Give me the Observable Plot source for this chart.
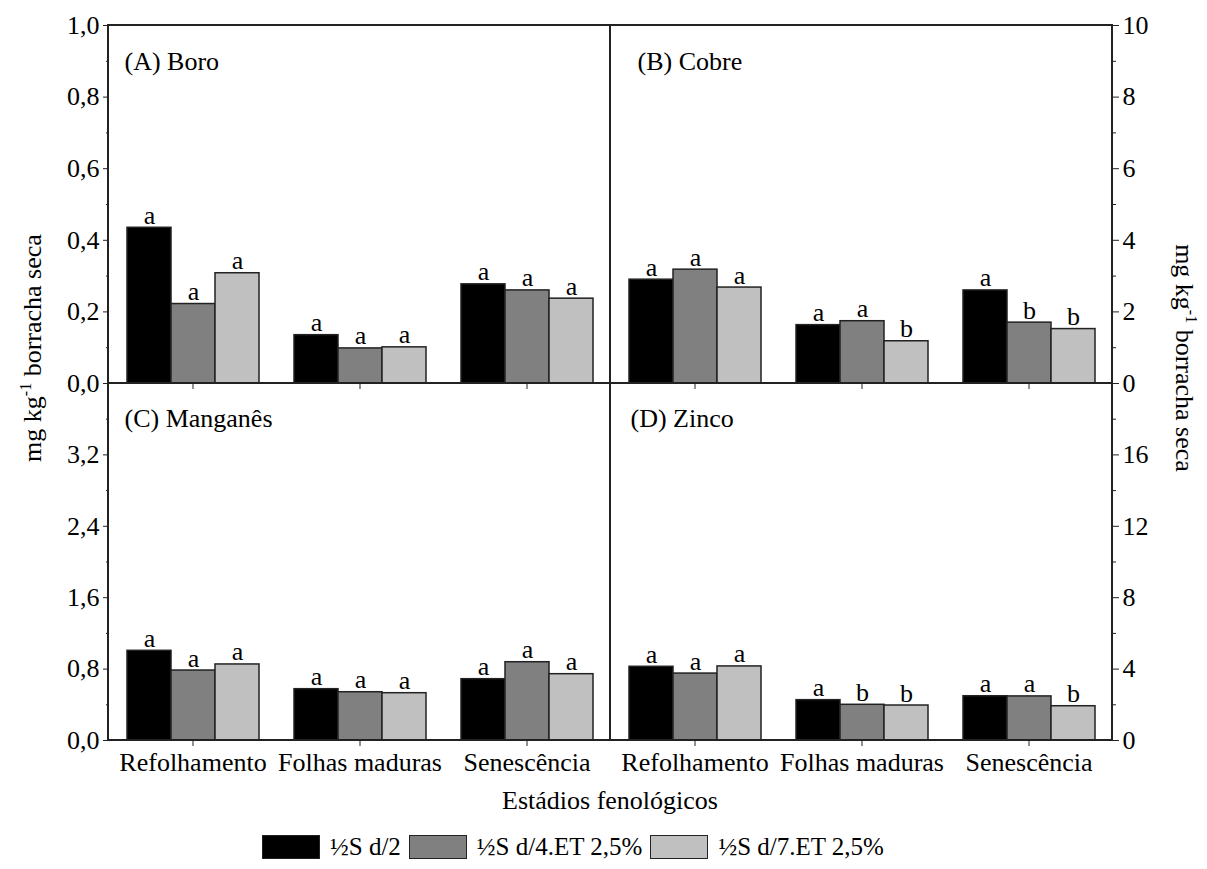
<!DOCTYPE html>
<html>
<head>
<meta charset="utf-8">
<script src="https://cdn.jsdelivr.net/npm/d3@7"></script>
<script src="https://cdn.jsdelivr.net/npm/@observablehq/plot@0.6"></script>
<style>
  html, body { margin: 0; padding: 0; background: #fff; }
  #wrap { position: relative; width: 1207px; height: 869px; font-family: "Liberation Serif", "DejaVu Serif", serif; color: #000; overflow: hidden; }
  #wrap svg { position: absolute; overflow: visible; }
  #wrap svg text { font-family: "Liberation Serif", "DejaVu Serif", serif; }
  .line { position: absolute; background: #222; }
  .ytitle { position: absolute; white-space: nowrap; font-size: 26px; }
  .ytitle sup { font-size: 16px; vertical-align: 10px; line-height: 0; }
  #xtitle { position: absolute; left: 610px; top: 786px; transform: translateX(-50%); font-size: 26px; white-space: nowrap; }
  #legend { position: absolute; left: 262px; top: 832px; display: flex; align-items: center; font-size: 25px; line-height: 30px; white-space: nowrap; }
  #legend .sw { width: 58px; height: 24px; box-sizing: border-box; border: 1.5px solid #222; margin-right: 10px; }
  #legend .it { display: flex; align-items: center; margin-right: 8px; }
</style>
</head>
<body>
<div id="wrap"></div>
<script>
// ---- data ----
const stages = ["Refolhamento", "Folhas maduras", "Senescência"];
const treatments = ["½S d/2", "½S d/4.ET 2,5%", "½S d/7.ET 2,5%"];
const colors = ["#000000", "#808080", "#c0c0c0"];

const boro     = [[0.435, 0.222, 0.308], [0.135, 0.098, 0.101], [0.277, 0.260, 0.237]];
const boroLet  = [["a","a","a"], ["a","a","a"], ["a","a","a"]];
const cobre    = [[2.90, 3.18, 2.68], [1.63, 1.74, 1.18], [2.60, 1.70, 1.52]];
const cobreLet = [["a","a","a"], ["a","a","b"], ["a","b","b"]];
const mang     = [[1.005, 0.784, 0.852], [0.575, 0.541, 0.530], [0.687, 0.877, 0.743]];
const mangLet  = [["a","a","a"], ["a","a","a"], ["a","a","a"]];
const zinco    = [[4.13, 3.75, 4.15], [2.26, 2.00, 1.96], [2.48, 2.47, 1.92]];
const zincoLet = [["a","a","a"], ["a","b","b"], ["a","a","b"]];

const boroTicks = [0, 0.2, 0.4, 0.6, 0.8, 1.0];
const boroMinor = [0.1, 0.3, 0.5, 0.7, 0.9];
const cobreTicks = [0, 2, 4, 6, 8, 10];
const cobreMinor = [1, 3, 5, 7, 9];
const mangTicks = [0, 0.8, 1.6, 2.4, 3.2];
const mangMinor = [0.4, 1.2, 2.0, 2.8, 3.6];
const zincoTicks = [0, 4, 8, 12, 16];
const zincoMinor = [2, 6, 10, 14, 18];

const FONT = "'Liberation Serif', 'DejaVu Serif', serif";
const comma1 = d => d.toFixed(1).replace(".", ",");
const intFmt = d => String(d);

function table(values, letters) {
  return stages.flatMap((s, i) => treatments.map((t, j) => ({stage: s, trt: t, value: values[i][j], letter: letters[i][j]})));
}

function panel(o) {
  const data = table(o.values, o.letters);
  const svg = Plot.plot({
    width: o.width, height: o.height,
    marginLeft: o.ml, marginRight: o.mr, marginTop: o.mt, marginBottom: o.mb,
    style: {background: "transparent", fontFamily: FONT, fontSize: "26px", overflow: "visible", color: "#000"},
    fx: {domain: stages, padding: 0},
    x: {domain: treatments, paddingInner: 0, paddingOuter: 0.36, axis: null},
    y: {domain: [0, o.yMax]},
    color: {domain: treatments, range: colors},
    marks: [
      Plot.barY(data, {fx: "stage", x: "trt", y: "value", fill: "trt", stroke: "#222", strokeWidth: 1.5}),
      Plot.text(data, {fx: "stage", x: "trt", y: "value", text: "letter", dy: -4, lineAnchor: "bottom", fontSize: 26, fill: "#000"}),
      Plot.axisY({anchor: o.anchor, ticks: o.ticks, tickFormat: o.fmt, tickSize: 6, tickPadding: 4, label: null, fontSize: 26, stroke: "#222"}),
      Plot.axisY({anchor: o.anchor, ticks: o.minor, tickFormat: () => "", tickSize: 3, label: null, stroke: "#222"}),
      Plot.axisFx({anchor: "bottom", tickSize: 6, tickPadding: 6, label: null, fontSize: 26,
                   tickFormat: o.bottom ? (d => d) : (() => ""), stroke: "#222"}),
      Plot.text([{stage: stages[0], t: o.label}], {fx: "stage", text: "t", frameAnchor: "top-left",
                 dx: o.ldx, dy: o.ldy, lineAnchor: "top", textAnchor: "start", fontSize: 26, fill: "#000"})
    ]
  });
  svg.style.left = o.left + "px";
  svg.style.top = o.top + "px";
  return svg;
}

const wrap = document.getElementById("wrap");

wrap.appendChild(panel({values: boro, letters: boroLet, yMax: 1.0, ticks: boroTicks, minor: boroMinor, fmt: comma1,
  anchor: "left", label: "(A) Boro", ldx: 15, ldy: 26, bottom: false,
  left: 0, top: 0, width: 610, height: 383, ml: 108, mr: 0, mt: 25, mb: 0}));
wrap.appendChild(panel({values: cobre, letters: cobreLet, yMax: 10, ticks: cobreTicks, minor: cobreMinor, fmt: intFmt,
  anchor: "right", label: "(B) Cobre", ldx: 26, ldy: 26, bottom: false,
  left: 610, top: 0, width: 597, height: 383, ml: 0, mr: 95, mt: 25, mb: 0}));
wrap.appendChild(panel({values: mang, letters: mangLet, yMax: 4.0, ticks: mangTicks, minor: mangMinor, fmt: comma1,
  anchor: "left", label: "(C) Manganês", ldx: 15, ldy: 25, bottom: true,
  left: 0, top: 383, width: 610, height: 397, ml: 108, mr: 0, mt: 0, mb: 40}));
wrap.appendChild(panel({values: zinco, letters: zincoLet, yMax: 20, ticks: zincoTicks, minor: zincoMinor, fmt: intFmt,
  anchor: "right", label: "(D) Zinco", ldx: 19, ldy: 25, bottom: true,
  left: 610, top: 383, width: 597, height: 397, ml: 0, mr: 95, mt: 0, mb: 40}));

// frame lines
function line(l, t, w, h) {
  const d = document.createElement("div");
  d.className = "line";
  Object.assign(d.style, {left: l + "px", top: t + "px", width: w + "px", height: h + "px"});
  wrap.appendChild(d);
}
line(107.25, 24.25, 1005.5, 1.5);   // top
line(107.25, 739.25, 1005.5, 1.5);  // bottom
line(107.25, 24.25, 1.5, 716.5);    // left
line(1111.25, 24.25, 1.5, 716.5);   // right
line(609.25, 24.25, 1.5, 716.5);    // middle vertical
line(107.25, 382.25, 1005.5, 1.5);  // middle horizontal

// titles
const yl = document.createElement("div");
yl.className = "ytitle";
yl.innerHTML = "mg kg<sup>-1</sup> borracha seca";
Object.assign(yl.style, {left: "33px", top: "348px", transform: "translate(-50%,-50%) rotate(-90deg)"});
wrap.appendChild(yl);

const yr = document.createElement("div");
yr.className = "ytitle";
yr.innerHTML = "mg kg<sup>-1</sup> borracha seca";
Object.assign(yr.style, {left: "1184px", top: "358px", transform: "translate(-50%,-50%) rotate(90deg)"});
wrap.appendChild(yr);

const xt = document.createElement("div");
xt.id = "xtitle";
xt.textContent = "Estádios fenológicos";
wrap.appendChild(xt);

// legend
const lg = document.createElement("div");
lg.id = "legend";
treatments.forEach((t, i) => {
  const it = document.createElement("div");
  it.className = "it";
  const sw = document.createElement("div");
  sw.className = "sw";
  sw.style.background = colors[i];
  const tx = document.createElement("span");
  tx.textContent = t;
  it.appendChild(sw); it.appendChild(tx);
  lg.appendChild(it);
});
wrap.appendChild(lg);
</script>
</body>
</html>
